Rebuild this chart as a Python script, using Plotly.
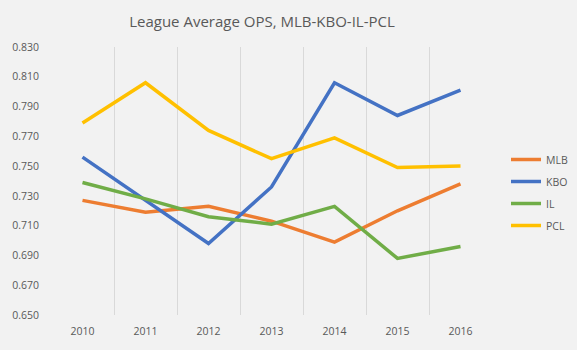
import plotly.graph_objects as go

years = ["2010", "2011", "2012", "2013", "2014", "2015", "2016"]
mlb = [0.727, 0.719, 0.723, 0.713, 0.699, 0.720, 0.738]
kbo = [0.756, 0.727, 0.698, 0.736, 0.806, 0.784, 0.801]
il = [0.739, 0.728, 0.716, 0.711, 0.723, 0.688, 0.696]
pcl = [0.779, 0.806, 0.774, 0.755, 0.769, 0.749, 0.750]
y_ticks = [0.650, 0.670, 0.690, 0.710, 0.730, 0.750, 0.770, 0.790, 0.810, 0.830]

series = [("MLB", mlb, "#ED7D31"), ("KBO", kbo, "#4472C4"),
          ("IL", il, "#70AD47"), ("PCL", pcl, "#FFC000")]

fig = go.Figure()
for name, vals, color in series:
    fig.add_trace(go.Scatter(x=years, y=vals, name=name, mode="lines", legendgroup=name,
                             line=dict(color=color, width=3.5)))

font = "Open Sans"
fig.update_layout(
    width=577, height=350,
    margin=dict(l=47.5, r=84.7, t=47, b=32.7),
    paper_bgcolor="#f2f2f2", plot_bgcolor="#f2f2f2",
    title=dict(text="League Average OPS, MLB-KBO-IL-PCL", x=262/577, xanchor="center",
               y=1 - 22/350, yanchor="middle", xref="container",
               font=dict(family=font, size=15, color="#595959")),
    font=dict(family=font, size=10.5, color="#595959"),
    showlegend=True,
    legend=dict(xref="container", yref="container", x=506/577, y=1 - 145/350,
                xanchor="left", yanchor="top", bgcolor="rgba(0,0,0,0)",
                font=dict(family=font, size=10.5, color="#595959"),
                tracegroupgap=3, itemwidth=30),
)
fig.update_xaxes(type="category", range=[-0.5, 6.5], showgrid=True, tickson="boundaries",
                 gridcolor="#d9d9d9", gridwidth=1, showline=False, zeroline=False,
                 ticks="", ticklabelstandoff=8)
fig.update_yaxes(range=[0.65, 0.83], tickvals=y_ticks, tickformat=".3f", showgrid=False,
                 zeroline=False, showline=False, ticks="", ticklabelstandoff=11)

fig.write_html("out.html")
